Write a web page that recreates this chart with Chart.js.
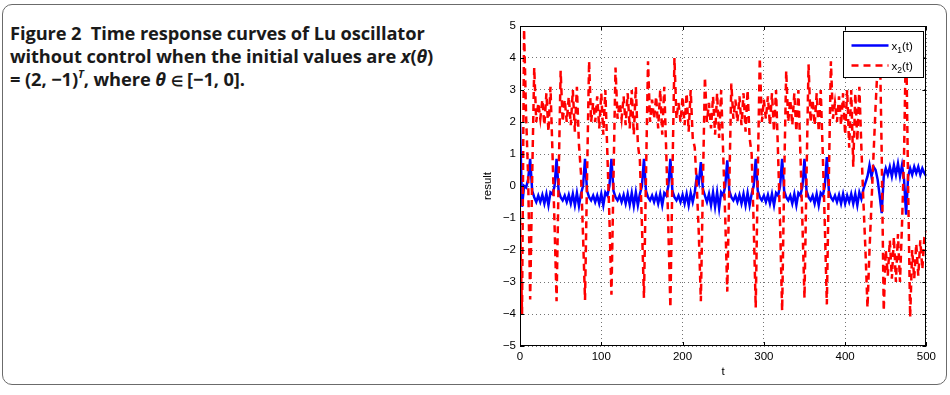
<!DOCTYPE html>
<html>
<head>
<meta charset="utf-8">
<script src="https://cdn.jsdelivr.net/npm/chart.js@4"></script>
<style>
html, body { margin: 0; padding: 0; background: #fff; }
body { width: 950px; height: 395px; position: relative; overflow: hidden; }
#frame { position: absolute; left: 2px; top: 4px; width: 945px; height: 381px; box-sizing: border-box;
         border: 1.5px solid #6b6b6b; border-radius: 10px; }
#cap { position: absolute; left: 10px; top: 21px; font-family: "Open Sans"; font-weight: 700; font-size: 18.3px;
       line-height: 23px; color: #1a1a1a; white-space: nowrap; letter-spacing: -0.1px; }
#cap sup { font-size: 11px; line-height: 0; vertical-align: 8px; }
#cap .el { font-size: 14px; }
#plot { position: absolute; left: 470px; top: 15px; }
</style>
</head>
<body>
<div id="frame"></div>
<div id="cap">Figure 2&nbsp; Time response curves of Lu oscillator<br>without control when the initial values are <i>x</i>(<i>θ</i>)<br>= (2, −1)<sup><i>T</i></sup>, where <i>θ</i> <span class="el">∈</span> [−1, 0].</div>
<canvas id="plot" width="470" height="370"></canvas>
<script>
// time axis, step 2.5
const t = [
  0, 2.5, 5, 7.5, 10, 12.5, 15, 17.5, 20, 22.5, 25, 27.5, 30, 32.5, 35, 37.5, 40, 42.5, 45, 47.5,
  50, 52.5, 55, 57.5, 60, 62.5, 65, 67.5, 70, 72.5, 75, 77.5, 80, 82.5, 85, 87.5, 90, 92.5, 95, 97.5,
  100, 102.5, 105, 107.5, 110, 112.5, 115, 117.5, 120, 122.5, 125, 127.5, 130, 132.5, 135, 137.5, 140, 142.5, 145, 147.5,
  150, 152.5, 155, 157.5, 160, 162.5, 165, 167.5, 170, 172.5, 175, 177.5, 180, 182.5, 185, 187.5, 190, 192.5, 195, 197.5,
  200, 202.5, 205, 207.5, 210, 212.5, 215, 217.5, 220, 222.5, 225, 227.5, 230, 232.5, 235, 237.5, 240, 242.5, 245, 247.5,
  250, 252.5, 255, 257.5, 260, 262.5, 265, 267.5, 270, 272.5, 275, 277.5, 280, 282.5, 285, 287.5, 290, 292.5, 295, 297.5,
  300, 302.5, 305, 307.5, 310, 312.5, 315, 317.5, 320, 322.5, 325, 327.5, 330, 332.5, 335, 337.5, 340, 342.5, 345, 347.5,
  350, 352.5, 355, 357.5, 360, 362.5, 365, 367.5, 370, 372.5, 375, 377.5, 380, 382.5, 385, 387.5, 390, 392.5, 395, 397.5,
  400, 402.5, 405, 407.5, 410, 412.5, 415, 417.5, 420, 422.5, 425, 427.5, 430, 432.5, 435, 437.5, 440, 442.5, 445, 447.5,
  450, 452.5, 455, 457.5, 460, 462.5, 465, 467.5, 470, 472.5, 475, 477.5, 480, 482.5, 485, 487.5, 490, 492.5, 495, 497.5,
  500
];

// x1(t) - blue solid
const x1 = [
  2.0, -0.65, 0.0, -0.05, 0.2,
  0.85, -0.15, -0.35,
  -0.5, -0.3, -0.5, -0.28, -0.55, -0.25, -0.6, -0.2, -0.25, 0.0,
  0.85, -0.15, -0.35, -0.45,
  -0.3, -0.5, -0.28, -0.55, -0.25, -0.6, -0.22, -0.62, -0.25, 0.0,
  0.85, -0.15, -0.35, -0.45,
  -0.3, -0.5, -0.3, -0.55, -0.25, -0.6, -0.2, -0.3, 0.0,
  0.85, -0.15, -0.35, -0.45,
  -0.3, -0.5, -0.28, -0.55, -0.25, -0.58, -0.22, -0.62, -0.2, -0.6, -0.25, 0.0,
  0.85, -0.15, -0.35, -0.45,
  -0.3, -0.5, -0.28, -0.55, -0.25, -0.6, -0.22, -0.3, 0.0,
  0.85, -0.15, -0.35, -0.45,
  -0.3, -0.5, -0.28, -0.55, -0.25, -0.6, -0.22, -0.5, -0.2, 0.3, 0.1,
  0.75, -0.1, -0.3, -0.5,
  -0.25, -0.6, -0.2, -0.65, -0.2, -0.7, -0.2, -0.3, 0.0,
  0.8, -0.15, -0.35, -0.45,
  -0.3, -0.5, -0.28, -0.55, -0.25, -0.6, -0.22, -0.6, -0.25, 0.0,
  0.85, -0.15, -0.35, -0.45,
  -0.3, -0.5, -0.28, -0.55, -0.25, -0.6, -0.22, -0.3, 0.0,
  0.85, -0.15, -0.35, -0.45,
  -0.3, -0.55, -0.25, -0.6, -0.22, -0.3, 0.0,
  0.85, -0.15, -0.35, -0.45,
  -0.3, -0.55, -0.25, -0.6, -0.22, -0.3, 0.0,
  0.9, -0.15, -0.35, -0.45,
  -0.3, -0.5, -0.28, -0.55, -0.25, -0.55, -0.3, -0.5, -0.25, -0.55, -0.25, -0.6, -0.2, -0.4, -0.1, 0.1,
  0.3, 0.65, 0.3, 0.6, 0.5, 0.2, -0.3, -0.85, 0.3, 0.55,
  0.35, 0.6, 0.3, 0.65, 0.35, 0.7, 0.3, 0.65, 0.2, -0.9, 0.3, 0.55,
  0.35, 0.6, 0.4, 0.6, 0.35, 0.55, 0.4, 0.3
];

// x2(t) - red dashed
const x2 = [
  -1.0, -4.0, 4.9, 2.2, 0.3,
  -3.55, 0.3, 3.7, 2.0,
  2.6, 2.1, 2.7, 1.9, 2.9, 1.7, 3.1, 1.0, -1.2,
  -3.6, 0.2, 3.6, 2.0,
  2.7, 2.0, 2.8, 1.9, 3.0, 1.7, 3.1, 1.3, 0.4, -1.5,
  -3.56, 0.3, 3.9, 2.0,
  2.6, 2.0, 2.8, 1.8, 2.9, 1.6, 3.0, 1.0, -1.0,
  -3.4, 0.2, 3.7, 2.1,
  2.6, 2.1, 2.8, 1.9, 2.9, 1.8, 3.0, 1.6, 3.1, 1.3, 0.8, -1.2,
  -3.5, 0.3, 3.9, 2.0,
  2.7, 2.1, 2.8, 1.8, 3.0, 1.6, 3.1, 1.0, -1.3,
  -3.8, 0.3, 4.0, 2.1,
  2.6, 2.0, 2.8, 1.9, 2.9, 1.7, 3.0, 1.5, 1.2, 0.0, -1.5,
  -3.6, 0.0, 3.4, 2.0,
  2.6, 1.8, 2.8, 1.6, 2.9, 1.5, 3.0, 1.0, -1.0,
  -3.3, 0.0, 3.2, 2.1,
  2.7, 2.0, 2.8, 1.9, 2.9, 1.7, 3.0, 1.5, 1.0, -1.2,
  -3.8, 0.3, 4.0, 2.0,
  2.7, 2.1, 2.8, 1.9, 2.9, 1.7, 3.0, 1.0, -1.2,
  -3.9, 0.2, 3.6, 2.0,
  2.7, 1.9, 2.9, 1.7, 3.0, 1.0, -1.2,
  -3.5, 0.3, 3.8, 2.0,
  2.7, 1.9, 2.9, 1.7, 3.0, 1.0, -1.2,
  -3.7, 0.3, 3.9, 2.1,
  2.6, 2.0, 2.8, 1.9, 2.9, 1.6, 3.0, 1.2, 3.0, 0.6, 2.9, 1.4, 3.1, 1.2, -0.5, -2.0,
  -3.8, -2.0, -0.5, 1.0, 2.5, 3.8, 4.8, 1.0, -3.9, -2.0,
  -2.8, -1.7, -2.9, -1.6, -3.0, -1.5, -3.0, -1.2, 1.0, 4.8, 0.0, -4.1,
  -2.0, -2.9, -1.8, -2.8, -1.7, -2.6, -1.6, -1.4
];

const tickFont = { family: 'Liberation Sans', size: 11.5 };

// matlab style box, inward ticks and legend
const axesBox = {
  id: 'axesBox',
  afterDraw(chart) {
    const { ctx, chartArea: a, scales } = chart;
    ctx.save();
    ctx.strokeStyle = '#000';
    ctx.lineWidth = 1;
    ctx.beginPath();
    scales.x.ticks.forEach(tk => {
      const px = Math.round(scales.x.getPixelForValue(tk.value)) + 0.5;
      ctx.moveTo(px, a.bottom); ctx.lineTo(px, a.bottom - 4);
      ctx.moveTo(px, a.top); ctx.lineTo(px, a.top + 4);
    });
    scales.y.ticks.forEach(tk => {
      const py = Math.round(scales.y.getPixelForValue(tk.value)) + 0.5;
      ctx.moveTo(a.left, py); ctx.lineTo(a.left + 4, py);
      ctx.moveTo(a.right, py); ctx.lineTo(a.right - 4, py);
    });
    ctx.stroke();
    ctx.strokeRect(Math.round(a.left) + 0.5, Math.round(a.top) + 0.5,
                   Math.round(a.right - a.left) - 1, Math.round(a.bottom - a.top) - 1);

    // legend
    const w = 80, h = 46;
    const lx = Math.round(a.right) - 3 - w + 0.5, ly = Math.round(a.top) + 5 + 0.5;
    ctx.fillStyle = '#fff';
    ctx.fillRect(lx, ly, w, h);
    ctx.strokeRect(lx, ly, w, h);
    chart.data.datasets.forEach((ds, i) => {
      const yy = ly + 14 + i * 20;
      ctx.save();
      ctx.strokeStyle = ds.borderColor;
      ctx.lineWidth = ds.borderWidth;
      ctx.setLineDash(ds.borderDash || []);
      ctx.beginPath();
      ctx.moveTo(lx + 8, yy); ctx.lineTo(lx + 45, yy);
      ctx.stroke();
      ctx.restore();
      ctx.fillStyle = '#000';
      ctx.textBaseline = 'alphabetic';
      ctx.font = '11.5px "Liberation Sans"';
      let tx = lx + 48;
      ctx.fillText('x', tx, yy + 4);
      tx += ctx.measureText('x').width;
      ctx.font = '8.5px "Liberation Sans"';
      ctx.fillText(String(i + 1), tx, yy + 7);
      tx += ctx.measureText(String(i + 1)).width;
      ctx.font = '11.5px "Liberation Sans"';
      ctx.fillText('(t)', tx, yy + 4);
    });
    ctx.restore();
  }
};

new Chart(document.getElementById('plot').getContext('2d'), {
  type: 'line',
  data: {
    labels: t,
    datasets: [{
      label: 'x1(t)',
      data: x1,
      borderColor: '#0000ff',
      borderWidth: 2.5,
      pointRadius: 0,
      tension: 0,
      order: 2
    }, {
      label: 'x2(t)',
      data: x2,
      borderColor: '#ff0000',
      borderWidth: 2.5,
      borderDash: [7, 5],
      pointRadius: 0,
      tension: 0,
      order: 1
    }]
  },
  options: {
    responsive: false,
    animation: false,
    events: [],
    layout: { padding: { top: 11, right: 13, bottom: 0, left: 0 } },
    plugins: {
      legend: { display: false },
      tooltip: { enabled: false }
    },
    scales: {
      x: {
        type: 'linear',
        min: 0,
        max: 500,
        afterFit: s => { s.height = 39; },
        ticks: { stepSize: 100, padding: 4, color: '#000', font: tickFont, maxRotation: 0 },
        grid: { color: 'rgba(0,0,0,0.55)', drawTicks: false },
        border: { display: false, dash: [1, 3] },
        title: { display: true, text: 't', color: '#000', font: tickFont, padding: { top: 0, bottom: 6 } }
      },
      y: {
        min: -5,
        max: 5,
        afterFit: s => { s.width = 50; },
        ticks: {
          stepSize: 1, padding: 4, color: '#000', font: tickFont,
          callback: v => String(v).replace('-', '\u2212')
        },
        grid: { color: 'rgba(0,0,0,0.55)', drawTicks: false },
        border: { display: false, dash: [1, 3] },
        title: { display: true, text: 'result', color: '#000', font: tickFont, padding: { top: 11, bottom: 0 } }
      }
    }
  },
  plugins: [axesBox]
});
</script>
</body>
</html>
